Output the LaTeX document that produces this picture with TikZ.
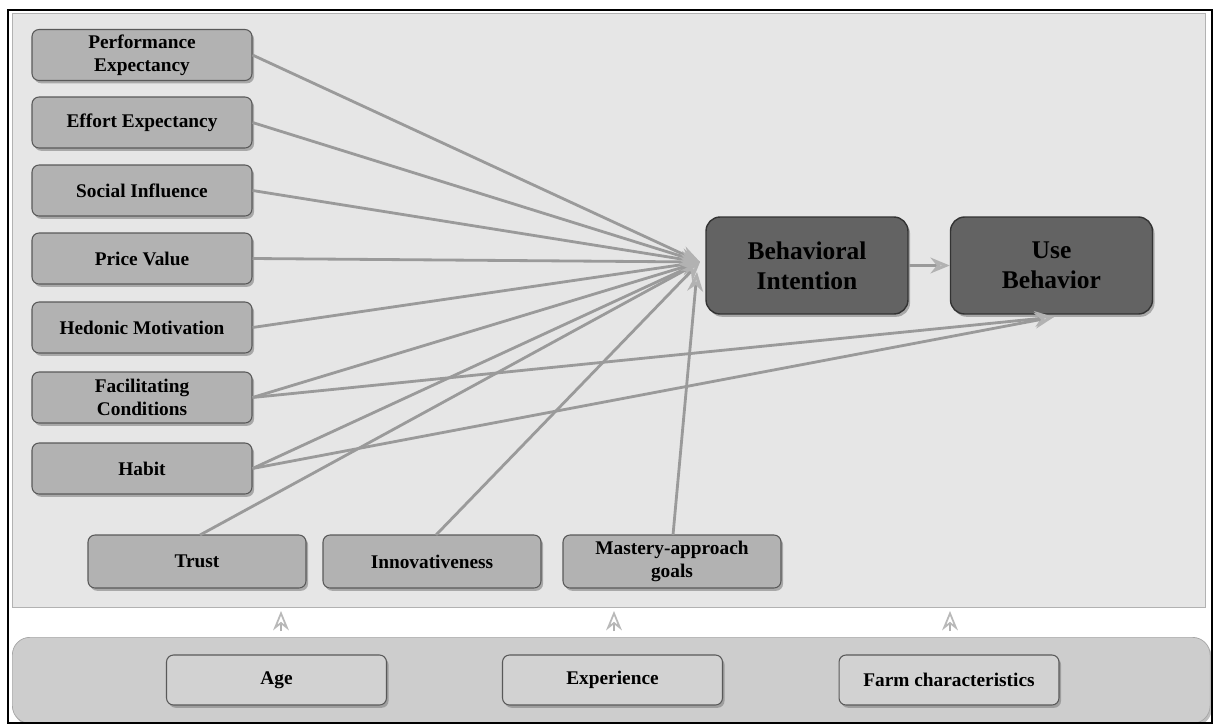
\documentclass[tikz,border=0pt]{standalone}
\usepackage{fontspec}
\setmainfont{Liberation Serif}
\usetikzlibrary{arrows.meta,shadows,calc}
\definecolor{panelA}{HTML}{E6E6E6}
\definecolor{panelB}{HTML}{CDCDCD}
\definecolor{boxA}{HTML}{B2B2B2}
\definecolor{boxDark}{HTML}{636363}
\definecolor{boxLight}{HTML}{D2D2D2}
\definecolor{lineC}{HTML}{9A9A9A}
\tikzset{
  x=0.02cm, y=-0.02cm,
  factor/.style={draw=gray!70!black, line width=0.6pt, fill=boxA, rounded corners=4pt,
    minimum width=4.4cm, minimum height=1.02cm, align=center, inner sep=1pt,
    font=\fontsize{11}{13.2}\selectfont\bfseries,
    drop shadow={shadow xshift=1.2pt, shadow yshift=-1.6pt, opacity=0.6}},
  mainbox/.style={draw=gray!40!black, line width=0.8pt, fill=boxDark, rounded corners=8pt,
    minimum width=4.04cm, minimum height=1.94cm, align=center,
    font=\fontsize{14.5}{17}\selectfont\bfseries,
    drop shadow={shadow xshift=1.2pt, shadow yshift=-1.6pt, opacity=0.6}},
  modbox/.style={draw=gray!70!black, line width=0.6pt, fill=boxLight, rounded corners=4pt,
    minimum width=4.4cm, minimum height=1.0cm, align=center,
    font=\fontsize{11}{13}\selectfont\bfseries,
    drop shadow={shadow xshift=1.2pt, shadow yshift=-1.6pt, opacity=0.6}},
  link/.style={draw=lineC, line width=1.6pt,
    -{Stealth[length=11pt,width=9pt,fill=gray!40,color=gray!60]}},
  modarrow/.style={draw=gray!60, line width=1pt,
    -{Stealth[open,length=11pt,width=9pt,color=gray!55]}}
}
\begin{document}
\begin{tikzpicture}
\useasboundingbox (0,0) rectangle (1215,724);
\fill[white] (0,0) rectangle (1215,724);
% panels
\node[draw=gray!60, fill=panelA, minimum width=23.86cm, minimum height=11.88cm, inner sep=0pt,
      anchor=north west] (toppanel) at (12,13) {};
\node[draw=gray!70, fill=panelB, rounded corners=10pt, minimum width=23.96cm, minimum height=1.72cm,
      inner sep=0pt, anchor=north west, drop shadow={shadow xshift=1pt, shadow yshift=-1.5pt, opacity=0.5}] (botpanel) at (12,637) {};
\draw[black, line width=1.3pt] (8,10) rectangle (1212,723);
% left factors
\node[factor] (PE) at (142,55) {Performance\\Expectancy};
\node[factor] (EE) at (142,122.5) {Effort Expectancy};
\node[factor] (SI) at (142,190.5) {Social Influence};
\node[factor] (PV) at (142,258.5) {Price Value};
\node[factor] (HM) at (142,327.5) {Hedonic Motivation};
\node[factor] (FC) at (142,397.5) {Facilitating\\Conditions};
\node[factor] (HA) at (142,468.5) {Habit};
% bottom factors
\node[factor, minimum width=4.36cm, minimum height=1.06cm] (TR) at (197,561.5) {Trust};
\node[factor, minimum width=4.36cm, minimum height=1.06cm] (IN) at (432,561.5) {Innovativeness};
\node[factor, minimum width=4.36cm, minimum height=1.06cm] (MA) at (672,561.5) {Mastery-approach\\goals};
% main constructs
\node[mainbox] (BI) at (807,265.5) {Behavioral\\Intention};
\node[mainbox] (UB) at (1051.5,265.5) {Use\\Behavior};
% moderators
\node[modbox] (AG) at (276.5,680) {Age};
\node[modbox] (EX) at (612.5,680) {Experience};
\node[modbox] (FA) at (949,680) {Farm characteristics};
% target points
\coordinate (biIn) at (700,262);
\coordinate (maIn) at (697,272);
\coordinate (ubIn) at (1054,317);
\coordinate (trOut) at (200,535);
\coordinate (inOut) at (436,535);
\coordinate (maOut) at (673,535);
% connectors
\draw[link] (PE.east) -- (biIn);
\draw[link] (EE.east) -- (biIn);
\draw[link] (SI.east) -- (biIn);
\draw[link] (PV.east) -- (biIn);
\draw[link] (HM.east) -- (biIn);
\draw[link] (FC.east) -- (biIn);
\draw[link] (HA.east) -- (biIn);
\draw[link] (trOut) -- (biIn);
\draw[link] (inOut) -- (biIn);
\draw[link] (maOut) -- (maIn);
\draw[link] (FC.east) -- (ubIn);
\draw[link] (HA.east) -- (ubIn);
\draw[link] (BI.east) -- (UB.west);
% moderator arrows
\coordinate (m1a) at (281,631);
\coordinate (m1b) at (281,611);
\coordinate (m2a) at (614,631);
\coordinate (m2b) at (614,611);
\coordinate (m3a) at (950,631);
\coordinate (m3b) at (950,611);
\draw[modarrow] (m1a) -- (m1b);
\draw[modarrow] (m2a) -- (m2b);
\draw[modarrow] (m3a) -- (m3b);
\end{tikzpicture}
\end{document}
